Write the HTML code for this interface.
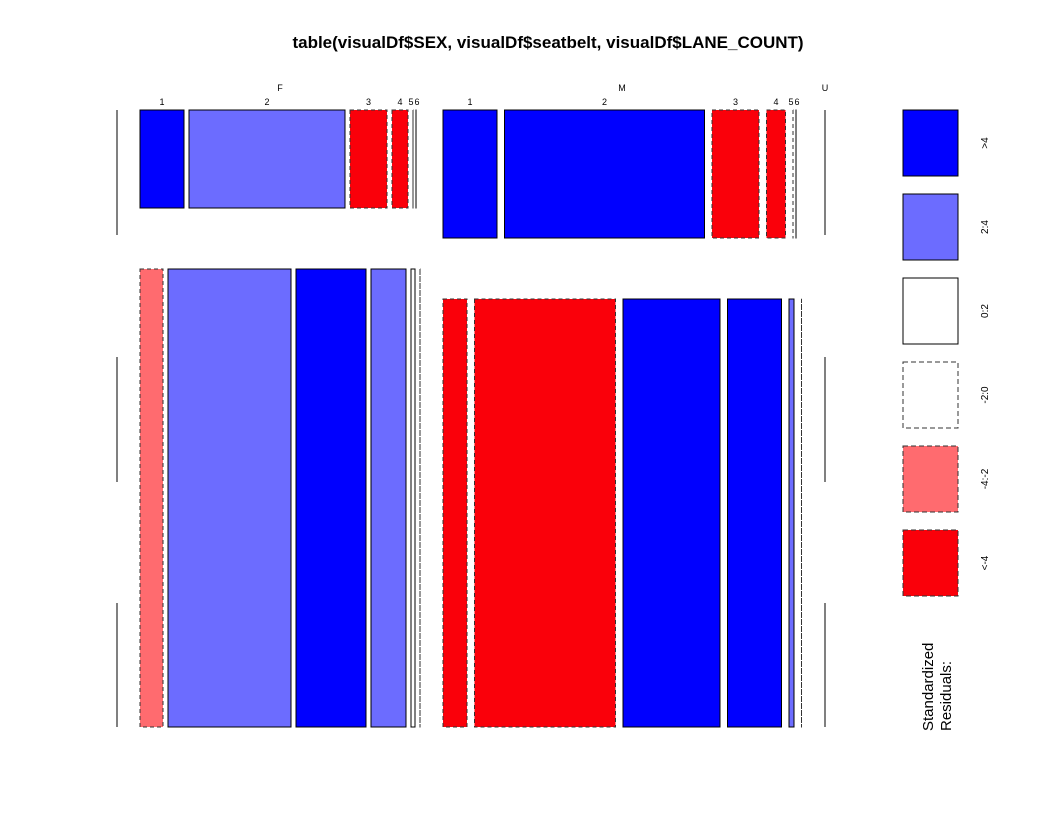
<!DOCTYPE html>
<html><head><meta charset="utf-8"><style>
body{margin:0;background:#fff;}
svg{display:block;font-family:"Liberation Sans",Arial,sans-serif;}
</style></head><body>
<svg id="chart" width="1062" height="828" viewBox="0 0 1062 828">
<rect width="1062" height="828" fill="#fff"/>
<text x="548" y="48" text-anchor="middle" font-size="17" font-weight="bold">table(visualDf$SEX, visualDf$seatbelt, visualDf$LANE_COUNT)</text>
<text x="280" y="91" text-anchor="middle" font-size="9">F</text>
<text x="622" y="91" text-anchor="middle" font-size="9">M</text>
<text x="825" y="91" text-anchor="middle" font-size="9">U</text>
<g id="marks"></g>
<g id="legend"></g>
<text transform="translate(933,731) rotate(-90)" font-size="15">Standardized</text>
<text transform="translate(951,731) rotate(-90)" font-size="15">Residuals:</text>
</svg>
<script>
// lane counts (widths) per sex/seatbelt cell
const lanes = ["1","2","3","4","5","6"];
const fTop = [44,156,37,16,0,0];
const fBot = [23,123,70,35,4,0];
const mTop = [54,200,47,19,0,0];
const mBot = [24,141,97,54,5,0];
// residual classes: 0 ">4",1 "2:4",2 "0:2",3 "-2:0",4 "-4:-2",5 "<-4"
const fTopRes = [0,1,5,5,3,2];
const fBotRes = [4,1,0,1,2,3];
const mTopRes = [0,0,5,5,3,2];
const mBotRes = [5,5,0,0,1,3];
// seatbelt row heights per sex (proportions)
const fRows = [98,458];
const mRows = [128,428];
const legendLabels = [">4","2:4","0:2","-2:0","-4:-2","<-4"];

const fills = ["#0000ff","#6c6cff","#ffffff","#ffffff","#ff6b6f","#fa000a"];
const dashed = [false,false,false,true,true,true];
const NS = "http://www.w3.org/2000/svg";
const marks = document.getElementById("marks");
const leg = document.getElementById("legend");
function mk(tag, attrs, parent){const e=document.createElementNS(NS,tag);for(const k in attrs)e.setAttribute(k,attrs[k]);parent.appendChild(e);return e;}

const yTop = 110, rowGap = 61, yBottom = 727;
function drawSex(sex, x0, gap, rows, tops, bots, resT, resB, labelTop){
  const tot = rows[0]+rows[1];
  const avail = yBottom - yTop - rowGap;
  const sc = avail/tot;
  const hT = rows[0]*sc, hB = rows[1]*sc;
  const yB = yBottom - hB;
  [[tops,resT,yTop,hT,"top"],[bots,resB,yB,hB,"bottom"]].forEach(([vals,res,y,h,row])=>{
    let x = x0;
    vals.forEach((v,i)=>{
      const w = v;
      const r = mk("rect",{x:x,y:y,width:Math.max(w,0.01),height:h,fill:fills[res[i]],stroke:dashed[res[i]]?"#333":"#000","stroke-width":1,"stroke-dasharray":dashed[res[i]]?"4,3":"none"},marks);
      
      
      if(row==="top" && labelTop){
        const t = mk("text",{x:x+w/2+(i===4?-2:(i===5?1:0)),y:105,"text-anchor":"middle","font-size":"9"},marks);
        t.textContent = lanes[i];
        
        
      }
      x += w + (v===0 ? 3 : gap);
    });
  });
}
drawSex("f",140,5,fRows,fTop,fBot,fTopRes,fBotRes,true);
drawSex("m",443,7.5,mRows,mTop,mBot,mTopRes,mBotRes,true);

// empty-level lines
[[117,110,235],[117,357,482],[117,603,727],[825,110,235],[825,357,482],[825,603,727]].forEach((s,i)=>{
  const l = mk("line",{x1:s[0],x2:s[0],y1:s[1],y2:s[2],stroke:"#000","stroke-width":1},marks);
  
  
});

legendLabels.forEach((lab,i)=>{
  const y = 110 + i*84;
  const r = mk("rect",{x:903,y:y,width:55,height:66,fill:fills[i],stroke:dashed[i]?"#333":"#000","stroke-width":1,"stroke-dasharray":dashed[i]?"5,3":"none"},leg);
  
  
  const t = mk("text",{transform:"translate(988,"+(y+33)+") rotate(-90)","text-anchor":"middle","font-size":"10"},leg);
  t.textContent = lab;
  
  
});
</script>
</body></html>
